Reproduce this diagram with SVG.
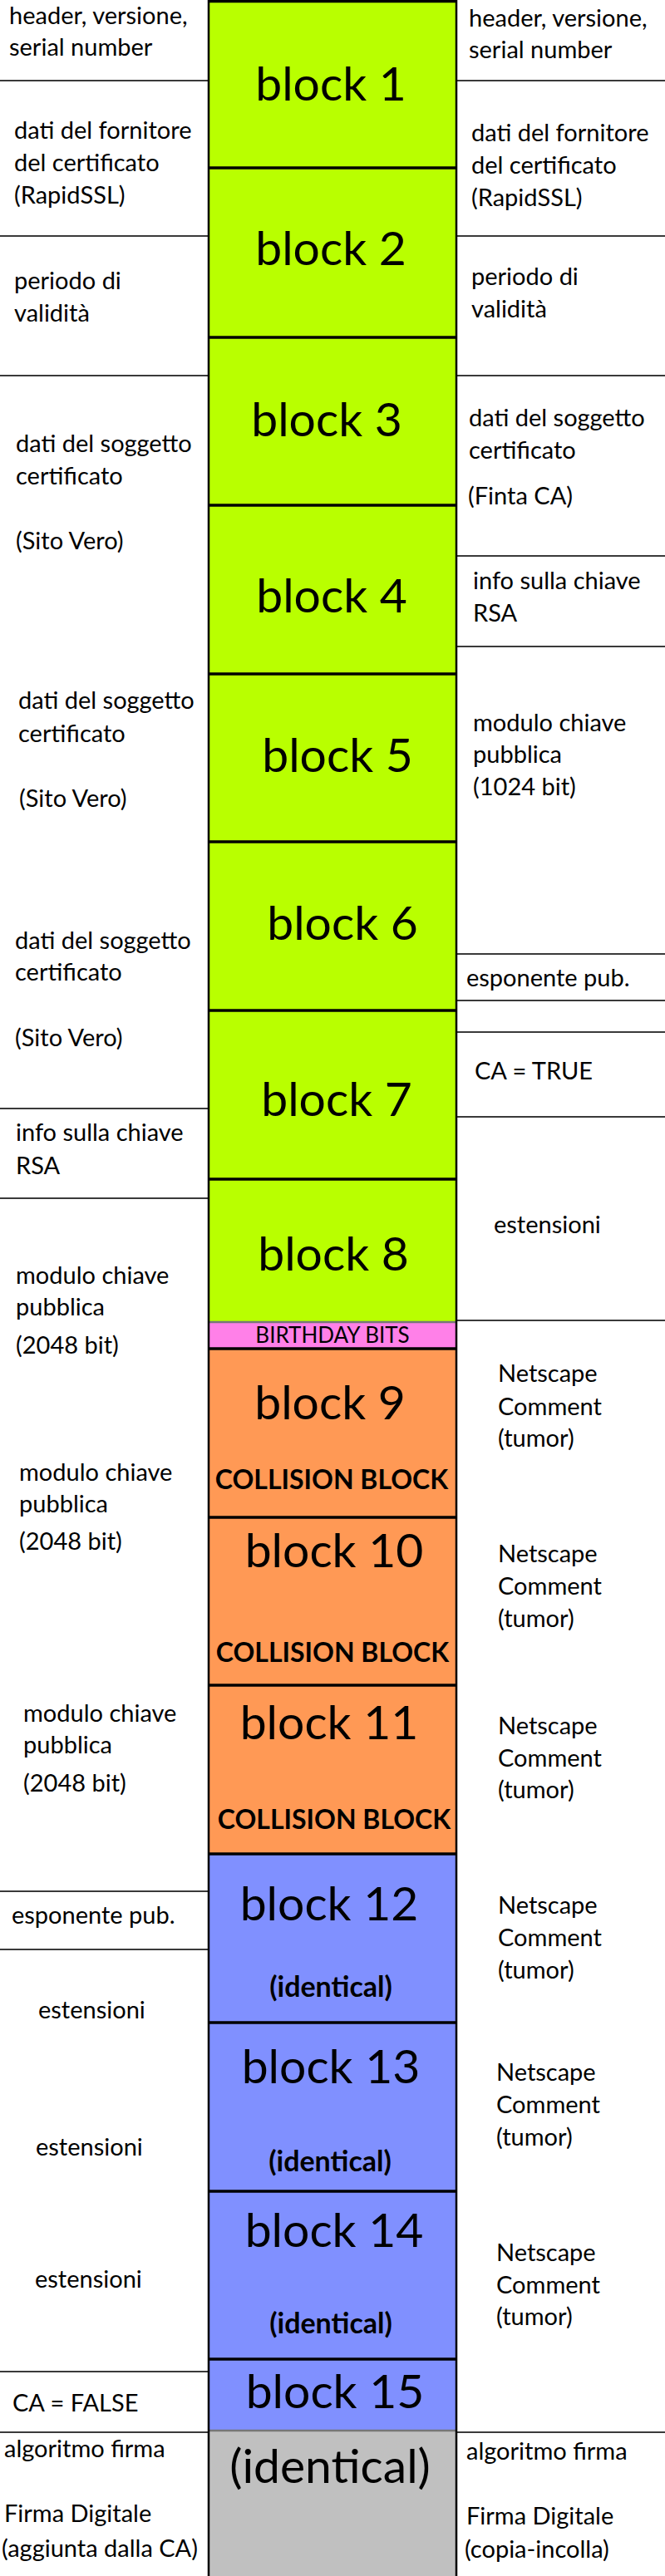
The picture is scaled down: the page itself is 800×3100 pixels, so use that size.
<svg xmlns="http://www.w3.org/2000/svg" width="800" height="3100" viewBox="0 0 800 3100">
<style>
.side{font-family:Lato,"Open Sans","Liberation Sans",sans-serif;font-size:29px;fill:#000}
.blk{font-family:Lato,"Open Sans","Liberation Sans",sans-serif;font-size:57px;fill:#000;text-anchor:middle}
.sub{font-family:Lato,"Open Sans","Liberation Sans",sans-serif;font-size:32px;font-weight:bold;fill:#000;text-anchor:middle}
.idn{font-family:Lato,"Open Sans","Liberation Sans",sans-serif;font-size:34px;font-weight:bold;fill:#000;text-anchor:middle}
.bb{font-family:Lato,"Open Sans","Liberation Sans",sans-serif;font-size:26px;fill:#000;text-anchor:middle}
.sep{stroke:#3a3a3a;stroke-width:2;fill:none}
.div{stroke:#000;stroke-width:3.5}
.thin{stroke:#777;stroke-width:2.5}
.g{fill:#B9FF00}
.o{fill:#FF9955}
.b{fill:#8090FF}
</style>
<rect width="800" height="3100" fill="#fff"/>
<g id="separators">
<line class="sep" x1="0" y1="97" x2="251" y2="97"/>
<line class="sep" x1="0" y1="284" x2="251" y2="284"/>
<line class="sep" x1="0" y1="452" x2="251" y2="452"/>
<line class="sep" x1="0" y1="1334" x2="251" y2="1334"/>
<line class="sep" x1="0" y1="1442" x2="251" y2="1442"/>
<line class="sep" x1="0" y1="2276" x2="251" y2="2276"/>
<line class="sep" x1="0" y1="2346" x2="251" y2="2346"/>
<line class="sep" x1="0" y1="2854" x2="251" y2="2854"/>
<line class="sep" x1="0" y1="2927" x2="251" y2="2927"/>
<line class="sep" x1="549" y1="97" x2="800" y2="97"/>
<line class="sep" x1="549" y1="284" x2="800" y2="284"/>
<line class="sep" x1="549" y1="452" x2="800" y2="452"/>
<line class="sep" x1="549" y1="669" x2="800" y2="669"/>
<line class="sep" x1="549" y1="778" x2="800" y2="778"/>
<line class="sep" x1="549" y1="1148" x2="800" y2="1148"/>
<line class="sep" x1="549" y1="1204" x2="800" y2="1204"/>
<line class="sep" x1="549" y1="1242" x2="800" y2="1242"/>
<line class="sep" x1="549" y1="1344" x2="800" y2="1344"/>
<line class="sep" x1="549" y1="1589" x2="800" y2="1589"/>
<line class="sep" x1="549" y1="2927" x2="800" y2="2927"/>
</g>
<g id="block1"><rect class="g" x="251" y="0" width="298" height="202"/><text class="blk" x="398" y="121">block 1</text></g>
<g id="block2"><rect class="g" x="251" y="202" width="298" height="204"/><text class="blk" x="398" y="319">block 2</text></g>
<g id="block3"><rect class="g" x="251" y="406" width="298" height="202"/><text class="blk" x="393" y="525">block 3</text></g>
<g id="block4"><rect class="g" x="251" y="608" width="298" height="203"/><text class="blk" x="399" y="737">block 4</text></g>
<g id="block5"><rect class="g" x="251" y="811" width="298" height="202"/><text class="blk" x="406" y="929">block 5</text></g>
<g id="block6"><rect class="g" x="251" y="1013" width="298" height="203"/><text class="blk" x="412" y="1131">block 6</text></g>
<g id="block7"><rect class="g" x="251" y="1216" width="298" height="203"/><text class="blk" x="405" y="1343">block 7</text></g>
<g id="block8"><rect class="g" x="251" y="1419" width="298" height="172"/><text class="blk" x="401" y="1529">block 8</text></g>
<g id="birthday"><rect fill="#FF80E8" x="251" y="1591" width="298" height="32"/><text class="bb" x="400" y="1616">BIRTHDAY BITS</text></g>
<g id="block9"><rect class="o" x="251" y="1623" width="298" height="203"/><text class="blk" x="397" y="1708">block 9</text><text class="sub" x="399" y="1792">COLLISION BLOCK</text></g>
<g id="block10"><rect class="o" x="251" y="1826" width="298" height="202"/><text class="blk" x="402" y="1886">block 10</text><text class="sub" x="400" y="2000">COLLISION BLOCK</text></g>
<g id="block11"><rect class="o" x="251" y="2028" width="298" height="203"/><text class="blk" x="396" y="2093">block 11</text><text class="sub" x="402" y="2201">COLLISION BLOCK</text></g>
<g id="block12"><rect class="b" x="251" y="2231" width="298" height="203"/><text class="blk" x="396" y="2311">block 12</text><text class="idn" x="398" y="2403">(identical)</text></g>
<g id="block13"><rect class="b" x="251" y="2434" width="298" height="203"/><text class="blk" x="398" y="2507">block 13</text><text class="idn" x="397" y="2613">(identical)</text></g>
<g id="block14"><rect class="b" x="251" y="2637" width="298" height="202"/><text class="blk" x="402" y="2704">block 14</text><text class="idn" x="398" y="2808">(identical)</text></g>
<g id="block15"><rect class="b" x="251" y="2839" width="298" height="86"/><text class="blk" x="403" y="2898">block 15</text></g>
<g id="signature"><rect fill="#C0C0C0" x="251" y="2925" width="298" height="175"/><text class="blk" x="397" y="2988">(identical)</text></g>
<g id="frame">
<line class="div" x1="251" y1="1.5" x2="549" y2="1.5"/>
<line class="div" x1="251" y1="202" x2="549" y2="202"/>
<line class="div" x1="251" y1="406" x2="549" y2="406"/>
<line class="div" x1="251" y1="608" x2="549" y2="608"/>
<line class="div" x1="251" y1="811" x2="549" y2="811"/>
<line class="div" x1="251" y1="1013" x2="549" y2="1013"/>
<line class="div" x1="251" y1="1216" x2="549" y2="1216"/>
<line class="div" x1="251" y1="1419" x2="549" y2="1419"/>
<line class="thin" x1="251" y1="1591" x2="549" y2="1591"/>
<line class="div" x1="251" y1="1623" x2="549" y2="1623"/>
<line class="div" x1="251" y1="1826" x2="549" y2="1826"/>
<line class="div" x1="251" y1="2028" x2="549" y2="2028"/>
<line class="div" x1="251" y1="2231" x2="549" y2="2231"/>
<line class="div" x1="251" y1="2434" x2="549" y2="2434"/>
<line class="div" x1="251" y1="2637" x2="549" y2="2637"/>
<line class="div" x1="251" y1="2839" x2="549" y2="2839"/>
<line class="thin" x1="251" y1="2925" x2="549" y2="2925"/>
<line stroke="#000" stroke-width="2.5" x1="251" y1="0" x2="251" y2="3100"/>
<line stroke="#000" stroke-width="2.5" x1="549" y1="0" x2="549" y2="3100"/>
</g>
<g id="left-labels" class="side">
<text class="side" x="11" y="29">header, versione,</text>
<text class="side" x="11" y="67">serial number</text>
<text class="side" x="17" y="167">dati del fornitore</text>
<text class="side" x="17" y="206">del certificato</text>
<text class="side" x="17" y="245">(RapidSSL)</text>
<text class="side" x="17" y="348">periodo di</text>
<text class="side" x="17" y="387">validità</text>
<text class="side" x="19" y="544">dati del soggetto</text>
<text class="side" x="19" y="583">certificato</text>
<text class="side" x="19" y="661">(Sito Vero)</text>
<text class="side" x="22" y="853">dati del soggetto</text>
<text class="side" x="22" y="893">certificato</text>
<text class="side" x="23" y="971">(Sito Vero)</text>
<text class="side" x="18" y="1142">dati del soggetto</text>
<text class="side" x="18" y="1180">certificato</text>
<text class="side" x="18" y="1259">(Sito Vero)</text>
<text class="side" x="19" y="1373">info sulla chiave</text>
<text class="side" x="19" y="1413">RSA</text>
<text class="side" x="19" y="1545">modulo chiave</text>
<text class="side" x="19" y="1583">pubblica</text>
<text class="side" x="19" y="1629">(2048 bit)</text>
<text class="side" x="23" y="1782">modulo chiave</text>
<text class="side" x="23" y="1820">pubblica</text>
<text class="side" x="23" y="1865">(2048 bit)</text>
<text class="side" x="28" y="2072">modulo chiave</text>
<text class="side" x="28" y="2110">pubblica</text>
<text class="side" x="28" y="2156">(2048 bit)</text>
<text class="side" x="14" y="2315">esponente pub.</text>
<text class="side" x="46" y="2429">estensioni</text>
<text class="side" x="43" y="2594">estensioni</text>
<text class="side" x="42" y="2753">estensioni</text>
<text class="side" x="15" y="2902">CA = FALSE</text>
<text class="side" x="5" y="2957">algoritmo firma</text>
<text class="side" x="5" y="3035">Firma Digitale</text>
<text class="side" x="2" y="3077">(aggiunta dalla CA)</text>
</g>
<g id="right-labels" class="side">
<text class="side" x="564" y="32">header, versione,</text>
<text class="side" x="564" y="70">serial number</text>
<text class="side" x="567" y="170">dati del fornitore</text>
<text class="side" x="567" y="209">del certificato</text>
<text class="side" x="567" y="248">(RapidSSL)</text>
<text class="side" x="567" y="343">periodo di</text>
<text class="side" x="567" y="382">validità</text>
<text class="side" x="564" y="513">dati del soggetto</text>
<text class="side" x="564" y="552">certificato</text>
<text class="side" x="563" y="607">(Finta CA)</text>
<text class="side" x="569" y="709">info sulla chiave</text>
<text class="side" x="569" y="748">RSA</text>
<text class="side" x="569" y="880">modulo chiave</text>
<text class="side" x="569" y="918">pubblica</text>
<text class="side" x="569" y="957">(1024 bit)</text>
<text class="side" x="561" y="1187">esponente pub.</text>
<text class="side" x="571" y="1299">CA = TRUE</text>
<text class="side" x="594" y="1484">estensioni</text>
<text class="side" x="599" y="1663">Netscape</text>
<text class="side" x="599" y="1703">Comment</text>
<text class="side" x="599" y="1741">(tumor)</text>
<text class="side" x="599" y="1880">Netscape</text>
<text class="side" x="599" y="1919">Comment</text>
<text class="side" x="599" y="1958">(tumor)</text>
<text class="side" x="599" y="2087">Netscape</text>
<text class="side" x="599" y="2126">Comment</text>
<text class="side" x="599" y="2164">(tumor)</text>
<text class="side" x="599" y="2303">Netscape</text>
<text class="side" x="599" y="2342">Comment</text>
<text class="side" x="599" y="2381">(tumor)</text>
<text class="side" x="597" y="2504">Netscape</text>
<text class="side" x="597" y="2543">Comment</text>
<text class="side" x="597" y="2582">(tumor)</text>
<text class="side" x="597" y="2721">Netscape</text>
<text class="side" x="597" y="2760">Comment</text>
<text class="side" x="597" y="2798">(tumor)</text>
<text class="side" x="561" y="2960">algoritmo firma</text>
<text class="side" x="561" y="3038">Firma Digitale</text>
<text class="side" x="559" y="3078">(copia-incolla)</text>
</g>
</svg>
